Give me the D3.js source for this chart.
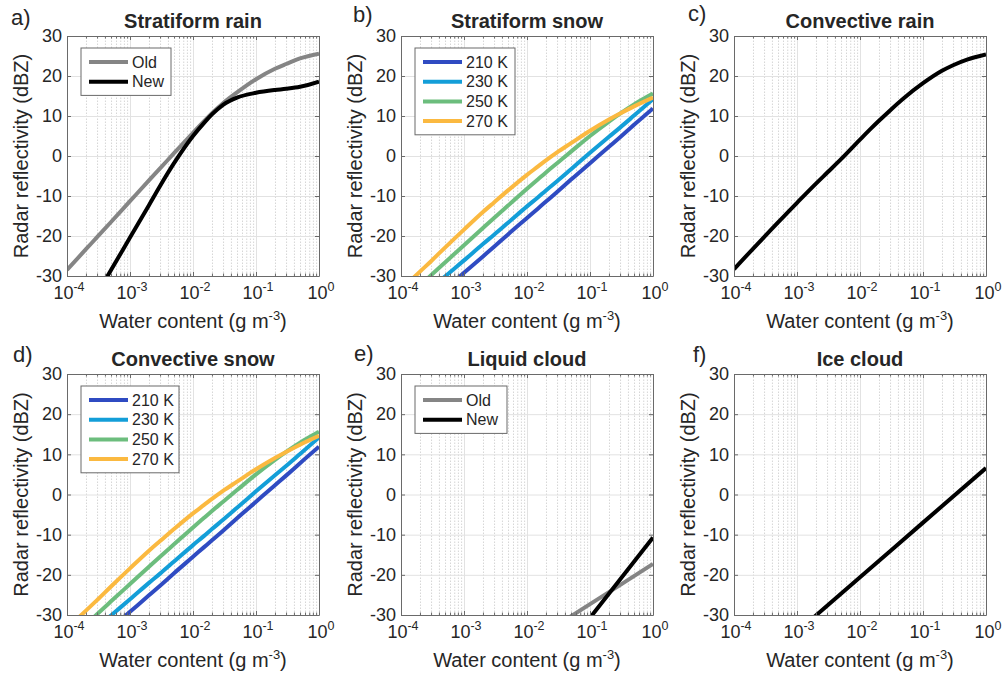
<!DOCTYPE html>
<html><head><meta charset="utf-8">
<script src="https://cdn.jsdelivr.net/npm/d3@7"></script>
<style>
body{margin:0;background:#fff}
text{font-family:"Liberation Sans",Arial,Helvetica,sans-serif;fill:#262626}
</style>
</head><body>
<svg id="chart" width="1002" height="679"></svg>
<script>
// ---------- data ----------
const xTicks = [1e-4, 1e-3, 1e-2, 1e-1, 1];
const xTickExp = ["-4", "-3", "-2", "-1", "0"];
const yTicks = [-30, -20, -10, 0, 10, 20, 30];

// common water-content sample grid (g m-3)
const wc = [1e-4,2e-4,3e-4,5e-4,1e-3,2e-3,3e-3,5e-3,1e-2,1.5e-2,2e-2,3e-2,5e-2,0.1,0.2,0.3,0.5,1];

// a) stratiform rain
const rainStratOld = [-28.5,-23.3,-20.3,-16.5,-11.3,-6.1,-3.1,0.7,5.8,8.7,10.7,13.2,15.9,19.2,21.8,23.0,24.4,25.6];
const rainStratNew = [-47.4,-39.3,-34.5,-28.5,-20.4,-12.3,-7.5,-1.8,5.0,8.3,10.4,12.8,14.6,15.8,16.5,16.8,17.3,18.6];

// b) stratiform snow, by temperature
const snowTemps = ["210 K", "230 K", "250 K", "270 K"];
const snowStrat210 = [-42.9,-38.8,-36.4,-33.3,-29.2,-25.1,-22.7,-19.6,-15.5,-13.1,-11.4,-9.0,-5.9,-1.8,2.3,4.7,7.8,11.9];
const snowStrat230 = [-39.5,-35.4,-33.1,-30.1,-26.1,-22.0,-19.7,-16.7,-12.6,-10.3,-8.6,-6.3,-3.3,0.8,4.8,7.1,10.1,14.2];
const snowStrat250 = [-36.8,-32.4,-29.8,-26.6,-22.3,-18.0,-15.5,-12.4,-8.2,-5.8,-4.1,-1.8,1.1,5.0,8.6,10.6,12.9,15.6];
const snowStrat270 = [-33.4,-28.9,-26.3,-22.9,-18.4,-14.0,-11.6,-8.6,-4.7,-2.6,-1.1,0.9,3.2,6.3,9.1,10.6,12.4,14.6];

// c) convective rain
const rainConv = [-28.3,-23.2,-20.3,-16.6,-11.7,-6.9,-4.2,-0.8,4.1,6.9,8.8,11.4,14.5,18.2,21.3,22.7,24.1,25.4];

// d) convective snow, by temperature
const snowConv210 = [-42.9,-38.8,-36.4,-33.3,-29.2,-25.1,-22.7,-19.6,-15.5,-13.1,-11.4,-9.0,-5.9,-1.8,2.3,4.7,7.8,11.9];
const snowConv230 = [-39.5,-35.4,-33.1,-30.1,-26.1,-22.0,-19.7,-16.7,-12.6,-10.3,-8.6,-6.3,-3.3,0.8,4.8,7.1,10.1,14.2];
const snowConv250 = [-36.8,-32.4,-29.8,-26.6,-22.3,-18.0,-15.5,-12.4,-8.2,-5.8,-4.1,-1.8,1.1,5.0,8.6,10.6,12.9,15.6];
const snowConv270 = [-33.4,-28.9,-26.3,-22.9,-18.4,-14.0,-11.6,-8.6,-4.7,-2.6,-1.1,0.9,3.2,6.3,9.1,10.6,12.4,14.6];

// e) liquid cloud
const wcLiquid = [0.01, 0.1, 1];
const liquidOld = [-37.3, -27.3, -17.3];
const liquidNew = [-50.7, -30.7, -10.7];

// f) ice cloud
const wcIce = [1e-3, 1e-2, 1e-1, 1];
const iceCloud = [-34.2, -20.6, -7.0, 6.6];

// ---------- styles ----------
const GREY = "#858585", BLACK = "#000000";
const TCOL = ["#2f4bc2", "#139ed8", "#6cbd7d", "#fbb940"];
const BOX = "#6a6a6a";

const cols = [[67, 319], [401, 653], [734, 986]];
const rows = [[36, 276], [374, 615]];

const zip = (xs, ys) => xs.map((x, i) => [x, ys[i]]);

const panels = [
  {letter:"a)", lp:[11,25], title:"Stratiform rain", c:0, r:0, legW:90,
   series:[{name:"Old", color:GREY, d:zip(wc, rainStratOld)}, {name:"New", color:BLACK, d:zip(wc, rainStratNew)}], legend:true},
  {letter:"b)", lp:[353,22], title:"Stratiform snow", c:1, r:0, legW:100,
   series:[snowStrat210, snowStrat230, snowStrat250, snowStrat270].map((v,i)=>({name:snowTemps[i], color:TCOL[i], d:zip(wc, v)})), legend:true},
  {letter:"c)", lp:[688,21], title:"Convective rain", c:2, r:0,
   series:[{name:"", color:BLACK, d:zip(wc, rainConv)}], legend:false},
  {letter:"d)", lp:[13,362], title:"Convective snow", c:0, r:1, legW:98,
   series:[snowConv210, snowConv230, snowConv250, snowConv270].map((v,i)=>({name:snowTemps[i], color:TCOL[i], d:zip(wc, v)})), legend:true},
  {letter:"e)", lp:[354,361], title:"Liquid cloud", c:1, r:1, legW:92,
   series:[{name:"Old", color:GREY, d:zip(wcLiquid, liquidOld)}, {name:"New", color:BLACK, d:zip(wcLiquid, liquidNew)}], legend:true},
  {letter:"f)", lp:[693,362], title:"Ice cloud", c:2, r:1,
   series:[{name:"", color:BLACK, d:zip(wcIce, iceCloud)}], legend:false},
];

const svg = d3.select("#chart");
const minorX = [];
for (let e = -4; e < 0; e++) for (let m = 2; m <= 9; m++) minorX.push(m * Math.pow(10, e));

panels.forEach((p, pi) => {
  const [x0, x1] = cols[p.c], [y0, y1] = rows[p.r];
  const x = d3.scaleLog().domain([1e-4, 1]).range([x0, x1]);
  const y = d3.scaleLinear().domain([-30, 30]).range([y1, y0]);
  const g = svg.append("g");

  // minor grid (dotted)
  g.append("g").attr("transform", `translate(0,${y1})`)
    .call(d3.axisBottom(x).tickValues(minorX).tickSize(-(y1 - y0)).tickFormat("").tickSizeOuter(0))
    .call(s => { s.select(".domain").remove(); s.selectAll("line").attr("stroke", "#d6d6d6").attr("stroke-dasharray", "1.5,1.5"); });
  // major grid
  g.append("g").attr("transform", `translate(0,${y1})`)
    .call(d3.axisBottom(x).tickValues(xTicks).tickSize(-(y1 - y0)).tickFormat("").tickSizeOuter(0))
    .call(s => { s.select(".domain").remove(); s.selectAll("line").attr("stroke", "#e2e2e2"); });
  g.append("g").attr("transform", `translate(${x0},0)`)
    .call(d3.axisLeft(y).tickValues(yTicks).tickSize(-(x1 - x0)).tickFormat("").tickSizeOuter(0))
    .call(s => { s.select(".domain").remove(); s.selectAll("line").attr("stroke", "#e2e2e2"); });

  // data lines (clipped)
  const clipId = "clip" + pi;
  svg.append("clipPath").attr("id", clipId).append("rect")
    .attr("x", x0).attr("y", y0).attr("width", x1 - x0).attr("height", y1 - y0);
  const line = d3.line().x(d => x(d[0])).y(d => y(d[1])).curve(d3.curveMonotoneX);
  g.append("g").attr("clip-path", `url(#${clipId})`)
    .selectAll("path").data(p.series).join("path")
    .attr("d", s => line(s.d)).attr("fill", "none")
    .attr("stroke", s => s.color).attr("stroke-width", 4).attr("stroke-linejoin", "round");

  // ticks (inward) on all four sides + box
  const tk = (sel) => sel.selectAll("line").attr("stroke", BOX);
  g.append("g").attr("transform", `translate(0,${y1})`)
    .call(d3.axisBottom(x).tickValues(minorX).tickSize(-2.5).tickFormat("").tickSizeOuter(0))
    .call(s => { s.select(".domain").remove(); tk(s); });
  g.append("g").attr("transform", `translate(0,${y0})`)
    .call(d3.axisTop(x).tickValues(minorX).tickSize(-2.5).tickFormat("").tickSizeOuter(0))
    .call(s => { s.select(".domain").remove(); tk(s); });
  g.append("g").attr("transform", `translate(0,${y1})`)
    .call(d3.axisBottom(x).tickValues(xTicks).tickSize(-4).tickFormat("").tickSizeOuter(0))
    .call(s => { s.select(".domain").attr("stroke", BOX); tk(s); });
  g.append("g").attr("transform", `translate(0,${y0})`)
    .call(d3.axisTop(x).tickValues(xTicks).tickSize(-4).tickFormat("").tickSizeOuter(0))
    .call(s => { s.select(".domain").attr("stroke", BOX); tk(s); });
  g.append("g").attr("transform", `translate(${x0},0)`)
    .call(d3.axisLeft(y).tickValues(yTicks).tickSize(-4).tickFormat("").tickSizeOuter(0))
    .call(s => { s.select(".domain").attr("stroke", BOX); tk(s); });
  g.append("g").attr("transform", `translate(${x1},0)`)
    .call(d3.axisRight(y).tickValues(yTicks).tickSize(-4).tickFormat("").tickSizeOuter(0))
    .call(s => { s.select(".domain").attr("stroke", BOX); tk(s); });

  // y tick labels
  g.selectAll(".ylab").data(yTicks).join("text")
    .attr("x", x0 - 5).attr("y", d => y(d)).attr("dy", "0.35em")
    .attr("text-anchor", "end").attr("font-size", 18).text(d => d);
  // x tick labels 10^n
  xTicks.forEach((v, i) => {
    const t = g.append("text").attr("x", x(v) + 2).attr("y", y1 + 23)
      .attr("text-anchor", "middle").attr("font-size", 18);
    t.append("tspan").text("10");
    t.append("tspan").attr("dy", -8).attr("font-size", 12.5).text(xTickExp[i]);
  });

  // axis labels
  const xl = g.append("text").attr("x", (x0 + x1) / 2).attr("y", y1 + 52)
    .attr("text-anchor", "middle").attr("font-size", 20);
  xl.append("tspan").text("Water content (g m");
  xl.append("tspan").attr("dy", -8).attr("font-size", 13).text("-3");
  xl.append("tspan").attr("dy", 8).text(")");
  g.append("text").attr("transform", `translate(${x0 - 39},${(y0 + y1) / 2}) rotate(-90)`)
    .attr("text-anchor", "middle").attr("font-size", 20).text("Radar reflectivity (dBZ)");

  // title and panel letter
  g.append("text").attr("x", (x0 + x1) / 2).attr("y", y0 - 8)
    .attr("text-anchor", "middle").attr("font-size", 20).attr("font-weight", "bold").text(p.title);
  g.append("text").attr("x", p.lp[0]).attr("y", p.lp[1]).attr("font-size", 22).text(p.letter);

  // legend
  if (p.legend) {
    const lx = x0 + 14, ly = y0 + 12, rowH = 19.7;
    const lg = g.append("g");
    lg.append("rect").attr("x", lx).attr("y", ly).attr("width", p.legW)
      .attr("height", 8 + rowH * p.series.length).attr("fill", "#fff").attr("stroke", BOX);
    p.series.forEach((s, i) => {
      const yy = ly + 14 + rowH * i;
      lg.append("line").attr("x1", lx + 8).attr("x2", lx + 47).attr("y1", yy).attr("y2", yy)
        .attr("stroke", s.color).attr("stroke-width", 4);
      lg.append("text").attr("x", lx + 51).attr("y", yy).attr("dy", "0.36em")
        .attr("font-size", 16).text(s.name);
    });
  }
});
</script>
</body></html>
